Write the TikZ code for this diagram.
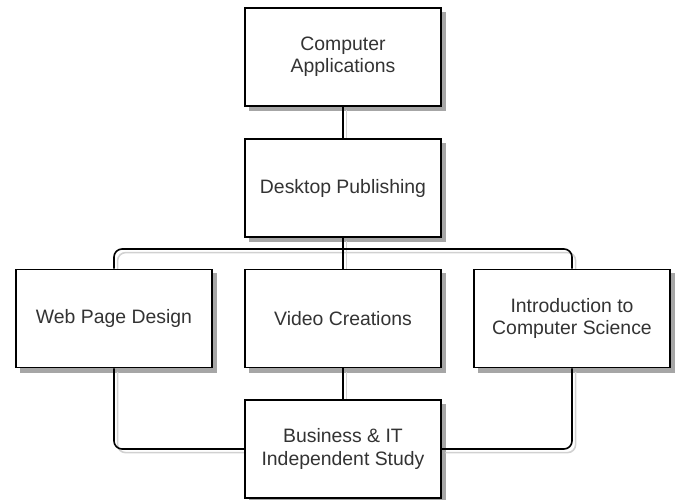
\documentclass[tikz,border=0pt]{standalone}
\usepackage{fontspec}
\setmainfont{Liberation Sans}
\usepackage{tikz}

\pgfdeclarelayer{shade}
\pgfsetlayers{shade,main}

% all connectors, drawn once as shadow and once as line
\newcommand{\courselinks}[1]{
        \draw [#1] (CA) -- (DP);
        \draw [#1] (DP) -- (VC);
        \draw [#1] (VC) -- (BI);
        \draw [#1] (WP.north) |- (bus) -| (IC.north);
        \draw [#1] (WP.south) |- (BI.west);
        \draw [#1] (IC.south) |- (BI.east);
}

\begin{document}
\begin{tikzpicture}[x=0.5pt, y=-0.5pt,
        course/.style={draw, fill=white, line width=0.8pt, minimum width=98pt, minimum height=49pt,
            inner sep=2pt, align=center, text=black!80, font=\fontsize{9.7}{11.2}\selectfont},
        boxshade/.style={fill=black!35},
        link/.style={line width=0.8pt, rounded corners=4pt},
        linkshade/.style={link, draw=black!18}]
        \useasboundingbox (0, 0) rectangle (675, 499);

        \node [course] (CA) at (343, 57) {Computer\\Applications};
        \node [course] (DP) at (343, 188) {Desktop Publishing};
        \node [course] (WP) at (114, 318.5) {Web Page Design};
        \node [course] (VC) at (343, 318.5) {Video Creations};
        \node [course] (IC) at (572, 318.5) {Introduction to\\Computer Science};
        \node [course] (BI) at (343, 449) {Business \& IT\\Independent Study};

        \coordinate (bus) at (343, 249);

        \begin{pgfonlayer}{shade}
            \foreach \n in {CA, DP, WP, VC, IC, BI}
                \fill [boxshade] ([shift={(4.5, 4.5)}] \n.south west) rectangle ([shift={(4.5, 4.5)}] \n.north east);
            \begin{scope}[transform canvas={xshift=1.8pt, yshift=-1.8pt}]
                \courselinks{linkshade}
            \end{scope}
        \end{pgfonlayer}

        \courselinks{link}
    \end{tikzpicture}
\end{document}
